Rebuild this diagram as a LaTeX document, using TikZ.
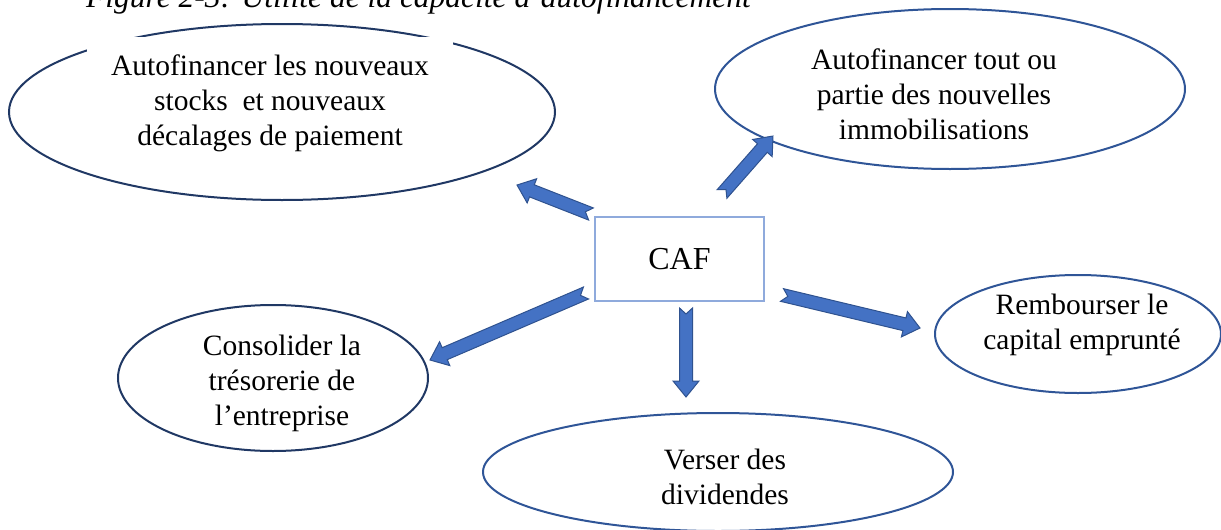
\documentclass[tikz,border=0pt]{standalone}
\usepackage{fontspec}
\setmainfont{Liberation Serif}
\usepackage{xcolor}
\usepackage{tikz}
\usetikzlibrary{calc}
\usetikzlibrary{shapes.geometric}

\definecolor{navy}{HTML}{203864}
\definecolor{ringblue}{HTML}{2F5597}
\definecolor{boxblue}{HTML}{8FAADC}
\definecolor{arrowfill}{HTML}{4472C4}
\definecolor{arrowline}{HTML}{2F528F}

\tikzset{
	bubble/.style={draw, ellipse, line width=2pt, inner sep=0pt},
	bubbletext/.style={align=center, inner sep=0pt, font=\fontsize{29.5}{35}\selectfont},
	cafbox/.style={draw=boxblue, line width=2pt, font=\fontsize{32}{38}\selectfont},
	fatarrow/.style={fill=arrowfill, draw=arrowline, line width=1pt, line join=miter}
}

\begin{document}
\begin{tikzpicture}[x=1pt,y=-1pt]
		\def\sw{6.5pt}
		\def\hw{13pt}
		\def\hl{16pt}
		\def\nd{6pt}
		\useasboundingbox (0,0) rectangle (1221,530);
		\clip (0,0) rectangle (1221,530);
		\node [anchor=base west, inner sep=0pt, font=\itshape\fontsize{31.5}{38}\selectfont] (caption) at (86,7) {Figure 2-3: Utilité de la capacité d’autofinancement};
		% ellipses
		\node [bubble, draw=navy, minimum width=546, minimum height=176] (stocks) at (282,112) {};
		\fill [white] (87,37) rectangle (453,64);
		\node [bubble, draw=ringblue, minimum width=470, minimum height=160] (immo) at (950,89) {};
		\node [bubble, draw=ringblue, minimum width=286, minimum height=118] (capital) at (1078,334) {};
		\node [bubble, draw=navy, minimum width=310, minimum height=146] (treso) at (273,378) {};
		\node [bubble, draw=ringblue, minimum width=470, minimum height=118] (divid) at (718,472) {};
		% texts
		\node [bubbletext] (stocks-t) at (270,103) {Autofinancer les nouveaux\\stocks\ \ et nouveaux\\décalages de paiement};
		\node [bubbletext] (immo-t) at (934,94) {Autofinancer tout ou\\partie des nouvelles\\immobilisations};
		\node [bubbletext] (capital-t) at (1082,325) {Rembourser le\\capital emprunté};
		\node [bubbletext] (treso-t) at (282,383) {Consolider la\\trésorerie de\\l’entreprise};
		\node [bubbletext] (divid-t) at (725,477) {Verser des\\dividendes};
		\node [cafbox, minimum width=169, minimum height=84] (caf) at (679.5,259) {CAF};
		% arrows
		\coordinate (t1) at (591,214); \coordinate (p1) at (517,185);
		\coordinate (t2) at (722,194); \coordinate (p2) at (773,136);
		\coordinate (t3) at (686,308); \coordinate (p3) at (686,397);
		\coordinate (t4) at (782,295); \coordinate (p4) at (920,328);
		\coordinate (t5) at (586,293); \coordinate (p5) at (430,360);
		\foreach \from/\to in {t1/p1,t2/p2,t3/p3,t4/p4,t5/p5}{
			\path let \p1=($(\to)-(\from)$), \n1={atan2(\y1,\x1)}, \n2={veclen(\x1,\y1)} in
				\pgfextra{\xdef\arrang{\n1}\xdef\arrlen{\n2}};
			\begin{scope}[shift={(\from)}, rotate=\arrang]
				\draw [fatarrow] (0pt,-\sw) -- (\arrlen-\hl,-\sw) -- (\arrlen-\hl,-\hw) -- (\arrlen+0pt,0pt)
					-- (\arrlen-\hl,\hw) -- (\arrlen-\hl,\sw) -- (0pt,\sw) -- (\nd,0pt) -- cycle;
			\end{scope}
		}
	\end{tikzpicture}
\end{document}
